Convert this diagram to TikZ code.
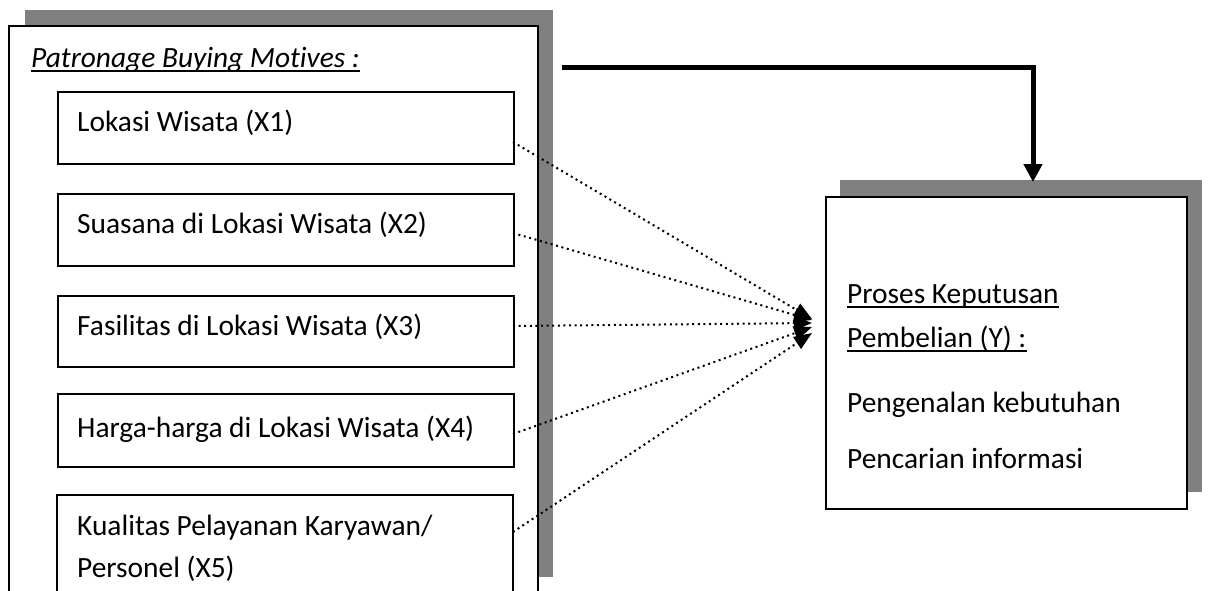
\documentclass[tikz,border=0pt]{standalone}
\usepackage{fontspec}
\setmainfont{Carlito}[Ligatures=NoCommon]
\usetikzlibrary{arrows.meta}
\begin{document}
\begin{tikzpicture}[x=1pt,y=-1pt,
  txt/.style={font=\fontsize{29.4}{36}\selectfont, inner sep=0pt, anchor=base west},
  shadowfill/.style={fill=black!50},
  boxline/.style={draw=black, line width=1.6pt},
  inbox/.style={draw=black, line width=1.6pt, anchor=north west, minimum width=456pt, minimum height=72pt, inner sep=0pt},
  dotarrow/.style={line width=2pt, dash pattern=on 2pt off 3.6pt, -{Triangle[length=18pt,width=14pt]}},
  thickarrow/.style={line width=5pt, line join=miter, -{Triangle[length=18pt,width=18pt]}},
  ul/.style={line width=1.6pt}
]
\useasboundingbox (0,0) rectangle (1208,590);
% left outer box with shadow
\fill[shadowfill] (25,10) rectangle (553,577);
\fill[white] (9,26) rectangle (538,590);
\draw[boxline] (9,591) -- (9,26) -- (538,26) -- (538,591);
\node[txt] (title) at (31,67) {\itshape Patronage Buying Motives :};
\draw[ul] ([yshift=-4pt]title.base west) -- ([yshift=-4pt]title.base east);
% inner boxes
\node[inbox, minimum height=72pt] (x1) at (57,91) {};
\node[inbox, minimum height=72pt] (x2) at (57,193) {};
\node[inbox, minimum height=71pt] (x3) at (57,295) {};
\node[inbox, minimum height=73pt] (x4) at (57,393) {};
\draw[boxline] (57,591) -- (57,495) -- (513,495) -- (513,591);
\node[txt] (t1) at (77,131) {Lokasi Wisata (X1)};
\node[txt] (t2) at (77,233) {Suasana di Lokasi Wisata (X2)};
\node[txt] (t3) at (77,335) {Fasilitas di Lokasi Wisata (X3)};
\node[txt] (t4) at (77,437) {Harga-harga di Lokasi Wisata (X4)};
\node[txt] (t5a) at (77,535) {Kualitas Pelayanan Karyawan/};
\node[txt] (t5b) at (77,577) {Personel (X5)};
% right box with shadow
\fill[shadowfill] (840,180) rectangle (1202,492);
\node[draw=black, line width=1.6pt, fill=white, anchor=north west, minimum width=361pt, minimum height=312pt, inner sep=0pt] (ybox) at (825,196) {};
\node[txt] (y1) at (847,303) {Proses Keputusan};
\draw[ul] ([yshift=-4pt]y1.base west) -- ([yshift=-4pt]y1.base east);
\node[txt] (y2) at (847,347) {Pembelian (Y) :};
\draw[ul] ([yshift=-4pt]y2.base west) -- ([yshift=-4pt]y2.base east);
\node[txt] (y3) at (847,412) {Pengenalan kebutuhan};
\node[txt] (y4) at (847,468) {Pencarian informasi};
% connectors
\coordinate (s1) at (513,142);
\coordinate (s2) at (513,233);
\coordinate (s3) at (513,326);
\coordinate (s4) at (513,434);
\coordinate (s5) at (513,532);
\coordinate (e1) at (812,319);
\coordinate (e2) at (812,320);
\coordinate (e3) at (812,323);
\coordinate (e4) at (812,327);
\coordinate (e5) at (812,333);
\draw[dotarrow] (s1) -- (e1);
\draw[dotarrow] (s2) -- (e2);
\draw[dotarrow] (s3) -- (e3);
\draw[dotarrow] (s4) -- (e4);
\draw[dotarrow] (s5) -- (e5);
\coordinate (a0) at (562,67);
\coordinate (a1) at (1033,182);
\draw[thickarrow] (a0) -| (a1);
\end{tikzpicture}
\end{document}
